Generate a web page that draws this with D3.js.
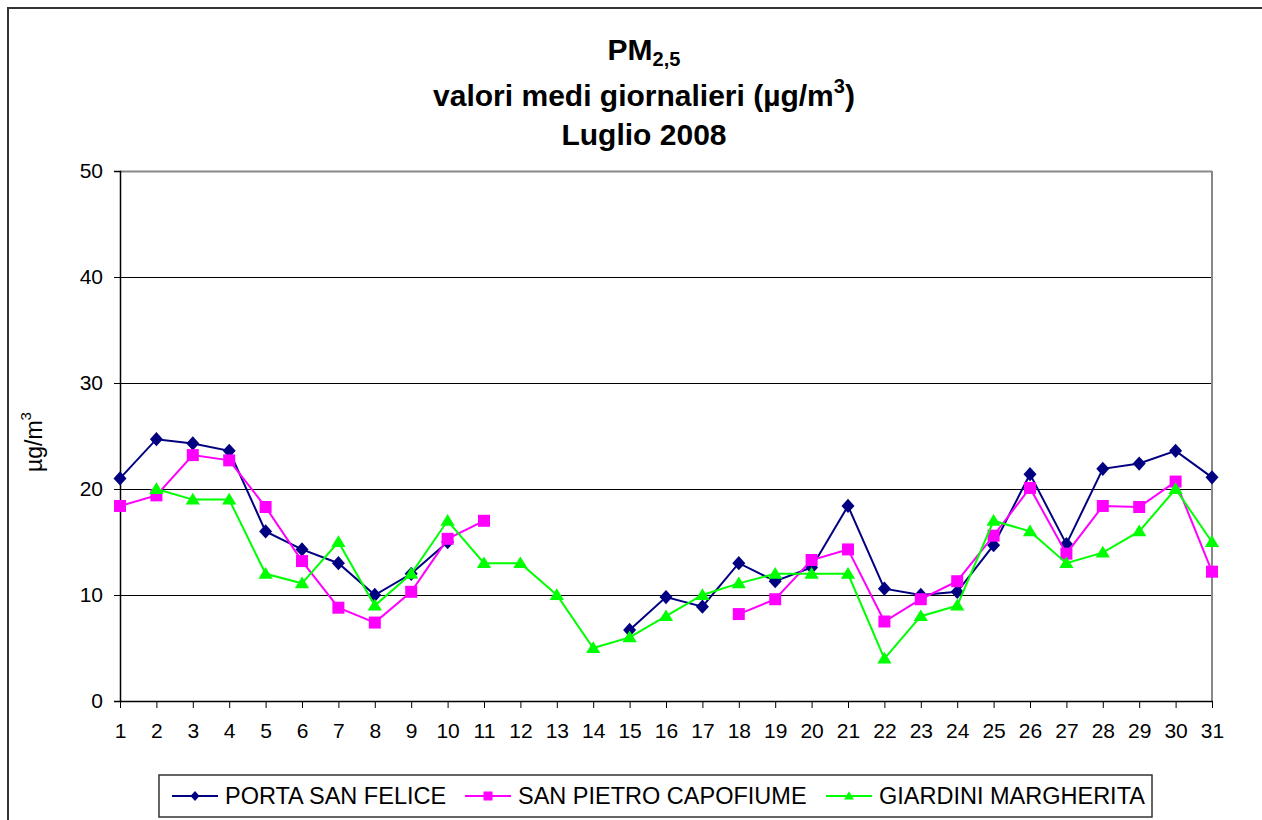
<!DOCTYPE html>
<html>
<head>
<meta charset="utf-8">
<script src="https://cdn.jsdelivr.net/npm/d3@7"></script>
<style>
  body { margin: 0; background: #fff; }
  svg text { font-family: "Liberation Sans", Arial, sans-serif; }
</style>
</head>
<body>
<svg id="chart" width="1262" height="820"></svg>
<script>
const days = d3.range(1, 32);
const yTicks = [0, 10, 20, 30, 40, 50];

const seriesNames = ["PORTA SAN FELICE", "SAN PIETRO CAPOFIUME", "GIARDINI MARGHERITA"];
const seriesColors = ["#000080", "#ff00ff", "#00ff00"];

const portaSanFelice = [21, 24.7, 24.3, 23.6, 16, 14.3, 13, 10, 12, 15,
  null, null, null, null, 6.7, 9.8, 8.9, 13, 11.3, 12.6,
  18.4, 10.6, 10, 10.3, 14.7, 21.4, 14.8, 21.9, 22.4, 23.6, 21.1];
const sanPietroCapofiume = [18.4, 19.4, 23.2, 22.7, 18.3, 13.2, 8.8, 7.4, 10.3, 15.3,
  17, null, null, null, null, null, null, 8.2, 9.6, 13.3,
  14.3, 7.5, 9.6, 11.3, 15.6, 20.1, 13.9, 18.4, 18.3, 20.7, 12.2];
const giardiniMargherita = [null, 20, 19, 19, 12, 11.1, 15, 9, 12, 17,
  13, 13, 10, 5, 6, 8, 10, 11.1, 12, 12,
  12, 4, 8, 9, 17, 16, 13, 14, 16, 20, 15];

const seriesValues = [portaSanFelice, sanPietroCapofiume, giardiniMargherita];

// excel-like markers, "size" is the half width
const diamond = {draw(ctx, r) {
  ctx.moveTo(0, -r * 1.1); ctx.lineTo(r, 0); ctx.lineTo(0, r * 1.1); ctx.lineTo(-r, 0); ctx.closePath();
}};
const square = {draw(ctx, r) { ctx.rect(-r, -r, 2 * r, 2 * r); }};
const triangle = {draw(ctx, r) {
  ctx.moveTo(0, -r * 1.05); ctx.lineTo(r * 1.1, r * 0.75); ctx.lineTo(-r * 1.1, r * 0.75); ctx.closePath();
}};
const markerTypes = [diamond, square, triangle];
const markerSizes = [6.5, 6, 6.5];

const svg = d3.select("#chart");

// outer chart border
svg.append("rect")
  .attr("x", 8).attr("y", 8)
  .attr("width", 1300).attr("height", 900)
  .attr("fill", "none").attr("stroke", "#333").attr("stroke-width", 2);

const plotLeft = 120, plotRight = 1212, plotTop = 171, plotBottom = 701;

const x = d3.scalePoint().domain(days).range([plotLeft, plotRight]);
const y = d3.scaleLinear().domain([0, 50]).range([plotBottom, plotTop]);

// gridlines
svg.append("g")
  .attr("transform", `translate(${plotLeft},0)`)
  .call(d3.axisLeft(y).tickValues(yTicks.slice(1)).tickSize(-(plotRight - plotLeft)).tickFormat(""))
  .call(g => g.select(".domain").remove())
  .call(g => g.selectAll("line").attr("stroke", d => d === 50 ? "#888" : "#000")
    .attr("stroke-width", d => d === 50 ? 2 : 1));

// right border of plot area
svg.append("line")
  .attr("x1", plotRight).attr("x2", plotRight).attr("y1", plotTop).attr("y2", plotBottom)
  .attr("stroke", "#888").attr("stroke-width", 2);

// y axis
svg.append("g")
  .attr("transform", `translate(${plotLeft},0)`)
  .call(d3.axisLeft(y).tickValues(yTicks).tickSize(6).tickPadding(11))
  .call(g => g.select(".domain").attr("stroke", "#000").attr("stroke-width", 1.5))
  .call(g => g.selectAll("text").attr("font-size", 21).attr("fill", "#000"));

// x axis
svg.append("g")
  .attr("transform", `translate(0,${plotBottom})`)
  .call(d3.axisBottom(x).tickSize(7).tickPadding(15).tickSizeOuter(0))
  .call(g => g.select(".domain").attr("stroke", "#000").attr("stroke-width", 1.5))
  .call(g => g.selectAll("text").attr("font-size", 21).attr("fill", "#000"));

// series
const line = d3.line()
  .defined(d => d != null)
  .x((d, i) => x(days[i]))
  .y(d => y(d));

seriesValues.forEach((vals, s) => {
  svg.append("path")
    .datum(vals)
    .attr("d", line)
    .attr("fill", "none")
    .attr("stroke", seriesColors[s])
    .attr("stroke-width", 2);

  svg.append("g").selectAll("path")
    .data(vals.map((v, i) => ({day: days[i], v})).filter(d => d.v != null))
    .join("path")
    .attr("transform", d => `translate(${x(d.day)},${y(d.v)})`)
    .attr("d", d3.symbol().type(markerTypes[s]).size(markerSizes[s]))
    .attr("fill", seriesColors[s]);
});

// title
const title = svg.append("g").attr("text-anchor", "middle")
  .attr("font-weight", "bold").attr("font-size", 30);
const t1 = title.append("text").attr("x", 644).attr("y", 60);
t1.append("tspan").text("PM");
t1.append("tspan").attr("font-size", 20).attr("dy", 6).text("2,5");
const t2 = title.append("text").attr("x", 644).attr("y", 106);
t2.append("tspan").text("valori medi giornalieri (µg/m");
t2.append("tspan").attr("font-size", 20).attr("dy", -13).text("3");
t2.append("tspan").attr("dy", 13).text(")");
title.append("text").attr("x", 644).attr("y", 145).text("Luglio 2008");

// y axis title
const yt = svg.append("text")
  .attr("transform", "translate(42,442) rotate(-90)")
  .attr("text-anchor", "middle").attr("font-size", 23);
yt.append("tspan").text("µg/m");
yt.append("tspan").attr("font-size", 15).attr("dy", -11).text("3");

// legend
const legend = svg.append("g");
legend.append("rect")
  .attr("x", 159).attr("y", 775).attr("width", 993).attr("height", 42)
  .attr("fill", "#fff").attr("stroke", "#333").attr("stroke-width", 1.5);
const legendX = [172, 465, 826];
seriesNames.forEach((name, s) => {
  const g = legend.append("g").attr("transform", `translate(${legendX[s]},796)`);
  g.append("line").attr("x1", 0).attr("x2", 46)
    .attr("stroke", seriesColors[s]).attr("stroke-width", 2);
  g.append("path").attr("transform", "translate(23,0)")
    .attr("d", d3.symbol().type(markerTypes[s]).size(4.5))
    .attr("fill", seriesColors[s]);
  g.append("text").attr("x", 53).attr("y", 8)
    .attr("font-size", 23.5).text(name);
});
</script>
</body>
</html>
